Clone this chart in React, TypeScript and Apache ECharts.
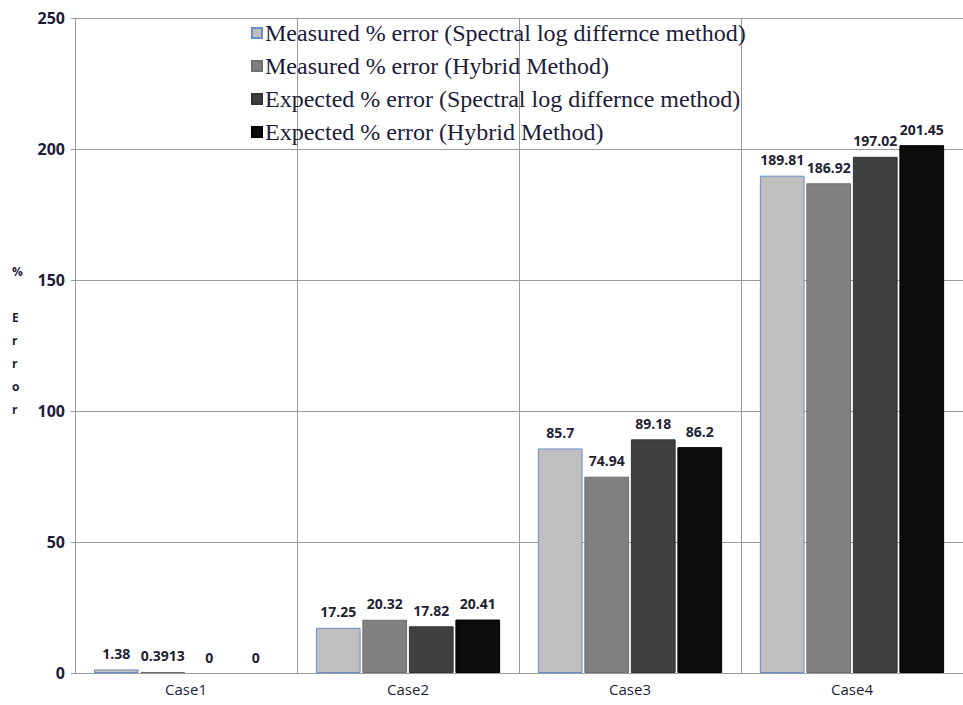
import React, { useEffect, useRef } from "react";
import * as echarts from "echarts";

const categories = ["Case1", "Case2", "Case3", "Case4"];
const seriesNames = [
  "Measured % error (Spectral log differnce method)",
  "Measured % error (Hybrid Method)",
  "Expected % error (Spectral log differnce method)",
  "Expected % error (Hybrid Method)",
];
const measuredSpectral = [1.38, 17.25, 85.7, 189.81];
const measuredHybrid = [0.3913, 20.32, 74.94, 186.92];
const expectedSpectral = [0, 17.82, 89.18, 197.02];
const expectedHybrid = [0, 20.41, 86.2, 201.45];
const yTicks = [0, 50, 100, 150, 200, 250];

const colors = ["#c0bfc0", "#808080", "#404040", "#0c0c0c"];
const borders = ["#6a8fc8", "#6e6e6e", "#333333", "#000000"];

export default function App() {
  const ref = useRef<HTMLDivElement>(null);
  useEffect(() => {
    if (!ref.current) return;
    const chart = echarts.init(ref.current, null, { renderer: "svg" });
    const data = [measuredSpectral, measuredHybrid, expectedSpectral, expectedHybrid];
    chart.setOption({
      animation: false,
      backgroundColor: "#ffffff",
      grid: { left: 75, top: 18, bottom: 32, width: 896 },
      legend: {
        orient: "vertical",
        left: 246,
        top: 15,
        itemWidth: 10,
        itemHeight: 10,
        itemGap: 7,
        icon: "rect",
        textStyle: {
          fontFamily: "Liberation Serif",
          fontSize: 24,
          lineHeight: 26,
          color: "#1c1c3a",
          padding: [0, 0, 0, -2],
        },
        data: seriesNames,
      },
      xAxis: {
        type: "category",
        data: categories,
        axisLine: { lineStyle: { color: "#9a9a9a", width: 1 } },
        axisTick: { show: false },
        splitLine: { show: true, lineStyle: { color: "#9a9a9a", width: 1 } },
        axisLabel: {
          fontFamily: "Open Sans",
          fontSize: 15,
          color: "#1c1c3a",
          margin: 8,
        },
      },
      yAxis: {
        type: "value",
        min: yTicks[0],
        max: yTicks[yTicks.length - 1],
        interval: 50,
        axisLine: { show: true, lineStyle: { color: "#9a9a9a", width: 1 } },
        axisTick: { show: true, length: 4, lineStyle: { color: "#9a9a9a" } },
        splitLine: { show: true, lineStyle: { color: "#9a9a9a", width: 1 } },
        axisLabel: {
          fontFamily: "Open Sans",
          fontWeight: "bold",
          fontSize: 16,
          color: "#1c1c3a",
          margin: 10,
        },
      },
      graphic: [
        {
          type: "text",
          left: 12,
          top: 260,
          style: {
            text: "%\n\nE\nr\nr\no\nr",
            fontFamily: "Open Sans",
            fontWeight: "bold",
            fontSize: 12,
            lineHeight: 23,
            fill: "#1c1c3a",
            align: "left",
          },
        },
      ],
      series: seriesNames.map((name, i) => ({
        name,
        type: "bar",
        data: data[i].map((v) =>
          v === 0 ? { value: v, itemStyle: { borderWidth: 0 } } : v
        ),
        barGap: "4%",
        barCategoryGap: "17%",
        itemStyle: { color: colors[i], borderColor: borders[i], borderWidth: 1 },
        label: {
          show: true,
          position: "top",
          distance: 9,
          fontFamily: "Open Sans",
          fontWeight: "bold",
          fontSize: 14,
          color: "#222233",
        },
      })),
    });
    return () => chart.dispose();
  }, []);
  return <div ref={ref} style={{ width: 963, height: 705, position: "absolute", left: 0, top: 0 }} />;
}
